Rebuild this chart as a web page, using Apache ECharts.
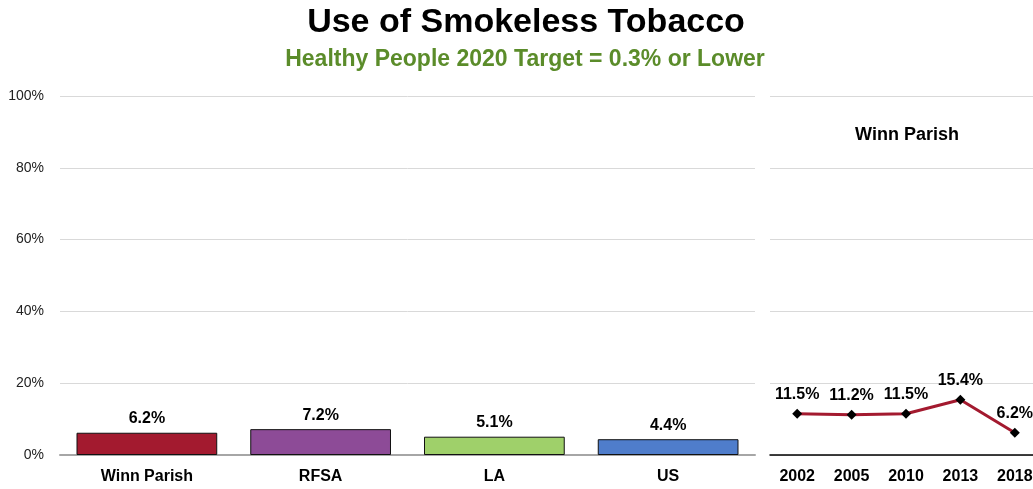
<!DOCTYPE html>
<html>
<head>
<meta charset="utf-8">
<script src="https://cdn.jsdelivr.net/npm/echarts@6/dist/echarts.min.js"></script>
<style>
  html, body { margin: 0; padding: 0; background: #fff; }
  #main { width: 1033px; height: 489px; }
</style>
</head>
<body>
<div id="main"></div>
<script>
// bar panel
const regions = ['Winn Parish', 'RFSA', 'LA', 'US']
const regionValues = [6.2, 7.2, 5.1, 4.4]
const regionColors = ['#a31a2f', '#8d4b97', '#9fd06a', '#4f7dcb']

// trend panel (Winn Parish)
const years = ['2002', '2005', '2010', '2013', '2018']
const trendValues = [11.5, 11.2, 11.5, 15.4, 6.2]

const font = 'Liberation Sans, Arial, sans-serif'
const chart = echarts.init(document.getElementById('main'))

// centred text helper for the headings
const heading = (text, x, y, size, color) => ({
    type: 'text',
    x: x,
    y: y,
    style: {
        text: text,
        align: 'center',
        verticalAlign: 'middle',
        fontSize: size,
        fontWeight: 'bold',
        fontFamily: font,
        fill: color,
    },
})

chart.setOption({
    animation: false,
    textStyle: { fontFamily: font },
    graphic: [
        heading('Use of Smokeless Tobacco', 526, 23, 34, '#000'),
        heading('Healthy People 2020 Target = 0.3% or Lower', 525, 60, 23, '#5b8c2a'),
        heading('Winn Parish', 907, 135, 18, '#000'),
    ],
    grid: [
        { left: 60, right: 278, top: 96, bottom: 34, outerBoundsMode: 'none' },
        { left: 770, width: 272, top: 96, bottom: 34, outerBoundsMode: 'none' },
    ],
    xAxis: [
        {
            type: 'category',
            gridIndex: 0,
            data: regions,
            axisTick: { show: false },
            axisLine: { lineStyle: { color: '#a6a6a6', width: 2 } },
            axisLabel: { fontSize: 16, fontWeight: 'bold', color: '#000', margin: 14 },
        },
        {
            type: 'category',
            gridIndex: 1,
            data: years,
            axisTick: { show: false },
            axisLine: { lineStyle: { color: '#000', width: 1.5 } },
            axisLabel: { fontSize: 16, fontWeight: 'bold', color: '#000', margin: 14 },
        },
    ],
    yAxis: [
        {
            type: 'value',
            gridIndex: 0,
            min: 0,
            max: 100,
            interval: 20,
            axisLabel: { formatter: '{value}%', fontSize: 14, color: '#222', margin: 16 },
            splitLine: { lineStyle: { color: '#d9d9d9', width: 1 } },
        },
        {
            type: 'value',
            gridIndex: 1,
            min: 0,
            max: 100,
            interval: 20,
            axisLabel: { show: false },
            splitLine: { lineStyle: { color: '#d9d9d9', width: 1 } },
        },
    ],
    series: [
        {
            type: 'bar',
            xAxisIndex: 0,
            yAxisIndex: 0,
            barWidth: '81%',
            data: regionValues.map((v, i) => ({
                value: v,
                itemStyle: { color: regionColors[i], borderColor: '#111', borderWidth: 1 },
            })),
            label: {
                show: true,
                position: 'top',
                distance: 6,
                formatter: '{c}%',
                fontSize: 16,
                fontWeight: 'bold',
                color: '#000',
            },
        },
        {
            type: 'line',
            xAxisIndex: 1,
            yAxisIndex: 1,
            data: trendValues,
            symbol: 'diamond',
            symbolSize: 10,
            itemStyle: { color: '#000' },
            lineStyle: { color: '#a31a2f', width: 3 },
            label: {
                show: true,
                position: 'top',
                distance: 6,
                formatter: '{c}%',
                fontSize: 16,
                fontWeight: 'bold',
                color: '#000',
            },
        },
    ],
})
</script>
</body>
</html>
